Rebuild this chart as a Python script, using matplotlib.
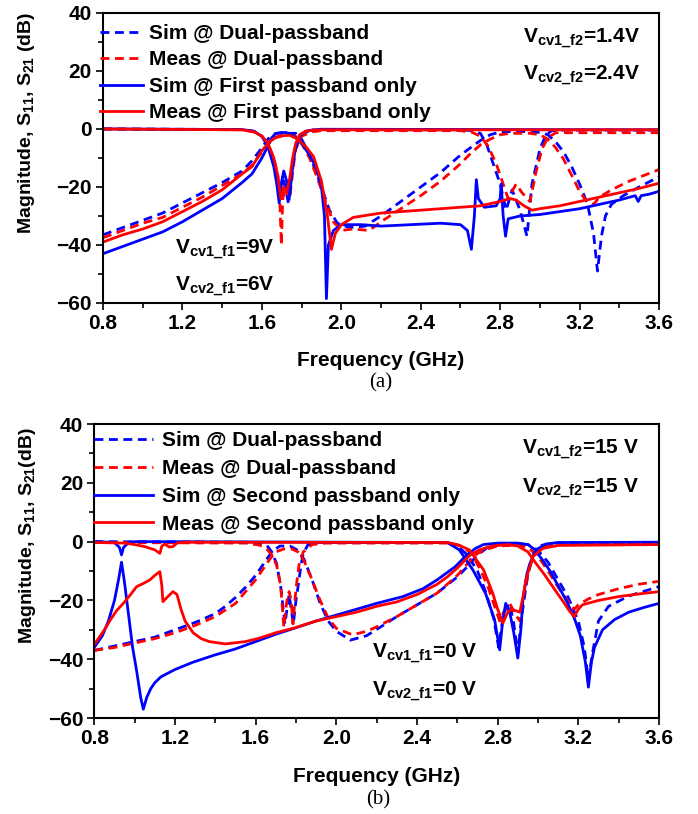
import numpy as np
import matplotlib
matplotlib.use("Agg")
import matplotlib.pyplot as plt
from matplotlib.ticker import MultipleLocator

plt.rcParams['font.family'] = ['Liberation Sans', 'DejaVu Sans']
plt.rcParams['font.weight'] = 'bold'
plt.rcParams['axes.labelweight'] = 'bold'
plt.rcParams['mathtext.fontset'] = 'custom'
plt.rcParams['mathtext.rm'] = 'Liberation Sans:bold'
plt.rcParams['mathtext.it'] = 'Liberation Sans:bold'
plt.rcParams['mathtext.bf'] = 'Liberation Sans:bold'

# ---------- panel (a): first passband tuning ----------
a_sim_dual_s21_f = [0.8, 0.9, 1.0, 1.1, 1.2, 1.3, 1.4, 1.5, 1.55, 1.6, 1.63, 1.66, 1.7, 1.74, 1.77, 1.8,
                    1.83, 1.86, 1.9, 1.94, 1.98, 2.04, 2.12, 2.2, 2.3, 2.4, 2.5, 2.6, 2.65, 2.7, 2.75, 2.8,
                    2.9, 3.0, 3.04, 3.08, 3.12, 3.16, 3.2, 3.24, 3.27, 3.29, 3.31, 3.33, 3.36, 3.42, 3.5, 3.6]
a_sim_dual_s21_db = [-36.5, -34, -31.5, -29, -25.5, -22, -18.5, -14.5, -11, -6.5, -3.5, -1.8, -1.2, -1.5, -1.5, -3.5,
                     -7.5, -12.5, -20, -28, -32.5, -34, -33.5, -30, -25, -20, -15, -9, -6.5, -4, -2, -1,
                     -0.8, -1.2, -2, -4.5, -8, -13, -19, -26, -36, -49, -37, -30, -26, -23, -20, -16.5]
a_sim_dual_s11_f = [0.8, 1.5, 1.56, 1.6, 1.63, 1.66, 1.675, 1.69, 1.705, 1.72, 1.735, 1.75, 1.77, 1.8, 1.84, 1.9,
                    2.6, 2.66, 2.7, 2.73, 2.76, 2.8, 2.83, 2.86, 2.9, 2.935, 2.96, 3.0, 3.03, 3.06, 3.1, 3.6]
a_sim_dual_s11_db = [0, -0.2, -0.8, -2.5, -5.5, -11, -18, -25, -16, -21, -26, -14, -6, -2, -0.5, -0.2,
                     -0.3, -0.6, -1.5, -5, -11, -19, -28, -21, -28, -37, -19, -7, -2, -0.6, -0.4, -0.4]
a_meas_dual_s21_f = [0.8, 0.9, 1.0, 1.1, 1.2, 1.3, 1.4, 1.5, 1.55, 1.6, 1.63, 1.66, 1.7, 1.74, 1.77, 1.8,
                     1.84, 1.88, 1.92, 1.96, 2.0, 2.06, 2.14, 2.2, 2.3, 2.4, 2.5, 2.6, 2.65, 2.7, 2.75, 2.8,
                     2.85, 2.95, 3.0, 3.04, 3.08, 3.12, 3.16, 3.2, 3.24, 3.27, 3.3, 3.36, 3.45, 3.6]
a_meas_dual_s21_db = [-37.5, -35, -32.5, -30.5, -27, -23.5, -19.5, -15.5, -12.5, -8, -5.5, -3, -2.2, -2, -2.5, -5,
                      -10, -17, -25, -32, -35, -34.5, -35, -32, -27.5, -23, -18, -12, -8.5, -5.5, -3.5, -2,
                      -1.5, -1.5, -2, -3.5, -6.5, -10.5, -16, -21.5, -25.5, -26, -23.5, -21, -18, -14]
a_meas_dual_s11_f = [0.8, 1.5, 1.56, 1.6, 1.63, 1.66, 1.68, 1.69, 1.698, 1.705, 1.72, 1.74, 1.755, 1.77, 1.8, 1.85,
                     1.9, 2.6, 2.66, 2.7, 2.74, 2.78, 2.81, 2.84, 2.88, 2.91, 2.95, 2.98, 3.01, 3.04, 3.08, 3.6]
a_meas_dual_s11_db = [0, -0.3, -1, -2.5, -5, -10, -16, -24, -40, -24, -20, -24, -15, -7, -2.5, -1,
                      -0.6, -0.6, -1.2, -2.5, -6, -12, -18, -24, -19, -22, -25, -15, -7, -3, -1.3, -1.3]
a_sim_first_s21_f = [0.8, 0.9, 1.0, 1.1, 1.2, 1.3, 1.4, 1.5, 1.55, 1.6, 1.63, 1.65, 1.67, 1.72, 1.75, 1.77,
                     1.8, 1.84, 1.875, 1.9, 1.915, 1.925, 1.935, 1.96, 2.0, 2.1, 2.2, 2.35, 2.5, 2.6, 2.635, 2.655,
                     2.67, 2.68, 2.69, 2.72, 2.78, 2.8, 2.805, 2.815, 2.827, 2.84, 2.9, 3.0, 3.1, 3.2, 3.3, 3.4,
                     3.48, 3.495, 3.51, 3.55, 3.6]
a_sim_first_s21_db = [-43, -40.5, -38, -35.5, -32, -28, -24, -18.5, -15.5, -10, -6, -3, -1.5, -1.2, -2, -3,
                      -5, -9, -13.5, -20, -30, -58.5, -40, -35, -33, -33, -33.5, -33, -32.5, -33, -35, -41.5,
                      -30, -17.5, -24, -27, -26.5, -24, -19, -30, -37, -31, -30, -29.5, -28.5, -27.5, -26, -24.5,
                      -23, -25, -23, -22.5, -21.5]
a_sim_first_s11_f = [0.8, 1.5, 1.56, 1.6, 1.63, 1.66, 1.675, 1.687, 1.7, 1.71, 1.725, 1.74, 1.75, 1.765, 1.79, 1.82,
                     1.86, 1.9, 3.6]
a_sim_first_s11_db = [0, -0.2, -0.8, -2.5, -6, -13, -19, -25.5, -18, -14.5, -18, -23, -16, -8, -2.5, -0.8,
                      -0.3, -0.1, -0.3]
a_meas_first_s21_f = [0.8, 0.9, 1.0, 1.1, 1.2, 1.3, 1.4, 1.5, 1.55, 1.6, 1.64, 1.67, 1.71, 1.74, 1.78, 1.82,
                      1.86, 1.9, 1.93, 1.95, 1.97, 2.0, 2.06, 2.2, 2.4, 2.6, 2.7, 2.8, 2.85, 2.88, 2.92, 2.96,
                      3.0, 3.1, 3.2, 3.3, 3.4, 3.5, 3.6]
a_meas_first_s21_db = [-39, -36.5, -34.5, -32, -28.5, -25, -21, -15.5, -13, -7.5, -4.3, -3, -2.3, -2.2, -3.5, -6,
                       -9.5, -18, -30, -41.5, -36, -33, -30.5, -29, -28, -27, -26.5, -25, -24, -24.5, -26.5, -28,
                       -27.5, -26.5, -25, -23.5, -22, -20.5, -18.7]
a_meas_first_s11_f = [0.8, 1.5, 1.56, 1.6, 1.63, 1.66, 1.68, 1.695, 1.71, 1.725, 1.74, 1.755, 1.77, 1.79, 1.82, 1.86,
                      1.9, 3.6]
a_meas_first_s11_db = [0, -0.3, -1, -2.5, -5, -10, -16, -24, -20, -22, -17, -10, -5, -2, -0.8, -0.4,
                       -0.3, -0.3]

# ---------- panel (b): second passband tuning ----------
b_sim_dual_s21_f = [0.8, 0.9, 1.0, 1.1, 1.2, 1.3, 1.4, 1.45, 1.5, 1.55, 1.6, 1.65, 1.68, 1.72, 1.77, 1.81,
                    1.84, 1.88, 1.92, 1.96, 2.0, 2.07, 2.15, 2.22, 2.3, 2.4, 2.5, 2.6, 2.65, 2.7, 2.75, 2.8,
                    2.9, 2.95, 3.0, 3.05, 3.1, 3.15, 3.2, 3.23, 3.25, 3.27, 3.3, 3.35, 3.45, 3.6]
b_sim_dual_s21_db = [-37, -35.5, -34, -32.5, -30, -27.5, -24.5, -22, -19, -15.5, -11.5, -6.5, -3.5, -1.5, -1.5, -3,
                     -6, -13, -21, -27, -30.5, -33.5, -32, -29, -25.5, -21.5, -17.5, -12, -8.5, -4.5, -2, -1,
                     -0.7, -1, -3, -7, -13, -19, -27, -36, -47, -38, -27, -22, -18.5, -15.3]
b_sim_dual_s11_f = [0.8, 1.55, 1.62, 1.655, 1.68, 1.704, 1.724, 1.745, 1.766, 1.787, 1.8, 1.811, 1.825, 1.836, 1.86, 1.9,
                    2.55, 2.6, 2.65, 2.7, 2.74, 2.78, 2.805, 2.83, 2.86, 2.88, 2.9, 2.92, 2.95, 2.98, 3.02, 3.1,
                    3.6]
b_sim_dual_s11_db = [0, -0.2, -0.5, -1.2, -3.5, -7.5, -15, -28, -18, -28, -20, -15, -8, -4, -1, -0.3,
                     -0.3, -1.5, -4.5, -10, -17, -26, -36, -24, -21, -28, -38, -25, -11, -4, -1.2, -0.4,
                     -0.3]
b_meas_dual_s21_f = [0.8, 0.9, 1.0, 1.1, 1.2, 1.3, 1.4, 1.5, 1.55, 1.6, 1.64, 1.67, 1.7, 1.74, 1.78, 1.81,
                     1.84, 1.88, 1.92, 1.96, 2.0, 2.08, 2.15, 2.2, 2.3, 2.4, 2.5, 2.6, 2.65, 2.7, 2.75, 2.8,
                     2.9, 2.95, 3.0, 3.05, 3.1, 3.15, 3.18, 3.2, 3.25, 3.3, 3.4, 3.5, 3.6]
b_meas_dual_s21_db = [-37, -36, -34.5, -33, -31, -28.5, -25.5, -21, -17, -13, -9, -6, -3.5, -2.5, -2.5, -3.5,
                      -6.5, -13, -20, -26, -29.5, -31.7, -30.5, -29, -25.5, -21.5, -17.5, -11.5, -7.5, -4, -2.5, -1.5,
                      -1.2, -2, -5, -10, -15.5, -20.5, -23, -21.5, -19.5, -18, -16, -14.5, -13.5]
b_meas_dual_s11_f = [0.8, 1.55, 1.62, 1.655, 1.68, 1.704, 1.724, 1.74, 1.755, 1.766, 1.776, 1.785, 1.8, 1.815, 1.836, 1.88,
                     1.95, 2.55, 2.62, 2.67, 2.71, 2.75, 2.78, 2.81, 2.83, 2.86, 2.89, 2.91, 2.93, 2.96, 2.99, 3.03,
                     3.1, 3.6]
b_meas_dual_s11_db = [-0.3, -0.5, -1.2, -2.5, -4.5, -8, -15, -29, -20, -17, -20, -28, -16, -8, -3.5, -1,
                      -0.5, -0.5, -1.5, -4, -9, -15, -21, -27, -24, -21, -25, -27, -18, -8, -3.5, -1.5,
                      -1, -1]
b_sim_second_s21_f = [0.8, 0.84, 0.87, 0.9, 0.92, 0.935, 0.95, 0.97, 0.99, 1.01, 1.03, 1.043, 1.06, 1.08, 1.1, 1.13,
                      1.2, 1.29, 1.4, 1.5, 1.62, 1.7, 1.79, 1.9, 2.0, 2.1, 2.2, 2.33, 2.43, 2.5, 2.55, 2.59,
                      2.64, 2.69, 2.73, 2.8, 2.9, 2.95, 2.98, 3.02, 3.06, 3.1, 3.14, 3.18, 3.21, 3.235, 3.25, 3.265,
                      3.28, 3.32, 3.38, 3.45, 3.52, 3.6]
b_sim_second_s21_db = [-36, -32, -27, -20, -13, -7, -14, -25, -36, -44, -53, -57, -53, -50, -48, -46,
                       -43.5, -41, -38.5, -36.5, -33.5, -31.5, -29.5, -27, -25, -23, -21, -18.7, -16, -13, -10.5, -8.5,
                       -5, -2.3, -1, -0.5, -0.5, -1, -2.5, -6, -10, -15, -20, -26, -32, -41, -49.5, -41,
                       -36, -30, -26.5, -24, -22.5, -21]
b_sim_second_s11_f = [0.8, 0.9, 0.925, 0.935, 0.945, 0.97, 1.0, 2.55, 2.61, 2.677, 2.74, 2.785, 2.81, 2.825, 2.84, 2.86,
                      2.88, 2.9, 2.915, 2.925, 2.945, 2.96, 2.99, 3.04, 3.1, 3.6]
b_sim_second_s11_db = [0, -0.3, -2, -4.5, -2, -0.3, 0, -0.3, -2.8, -9.6, -17.6, -26.6, -36.8, -27, -21, -24,
                       -31, -39.6, -30, -20, -11, -7.4, -2.8, -0.8, -0.3, -0.2]
b_meas_second_s21_f = [0.8, 0.85, 0.88, 0.91, 0.944, 0.98, 1.01, 1.05, 1.076, 1.1, 1.125, 1.135, 1.14, 1.16, 1.19, 1.21,
                       1.23, 1.25, 1.29, 1.33, 1.37, 1.45, 1.55, 1.62, 1.7, 1.79, 1.9, 2.0, 2.1, 2.2, 2.3, 2.4,
                       2.5, 2.55, 2.6, 2.66, 2.71, 2.77, 2.85, 2.9, 2.95, 2.99, 3.03, 3.06, 3.1, 3.125, 3.155, 3.18,
                       3.2, 3.22, 3.3, 3.4, 3.5, 3.6]
b_meas_second_s21_db = [-35, -30, -26.6, -23.5, -21, -18, -15.3, -14, -13, -11.5, -10.2, -15, -20.4, -19, -17, -18,
                        -23, -27, -31, -33, -34, -34.8, -34, -32.8, -31, -29.4, -27, -25.5, -24, -22, -20.5, -18,
                        -14.5, -12, -9, -4.8, -2.8, -1.5, -1, -1.5, -3.5, -7.4, -11, -14, -18, -20.4, -23.5, -25.5,
                        -23, -21.5, -20, -18.7, -17.8, -17]
b_meas_second_s11_f = [0.8, 0.95, 1.0, 1.05, 1.1, 1.125, 1.135, 1.15, 1.17, 1.19, 1.21, 1.25, 2.55, 2.6, 2.66, 2.73,
                       2.776, 2.8, 2.826, 2.85, 2.87, 2.89, 2.91, 2.925, 2.94, 2.975, 3.025, 3.1, 3.6]
b_meas_second_s11_db = [-0.3, -0.5, -1, -1.7, -2.8, -4, -1.5, -0.8, -1.8, -1.7, -0.5, -0.2, -0.3, -1, -2.8, -9.6,
                        -17.6, -23, -27.7, -24, -23, -23.5, -24, -19, -13, -5, -2.3, -1.3, -1]

a_labels = ['Sim @ Dual-passband', 'Meas @ Dual-passband',
            'Sim @ First passband only', 'Meas @ First passband only']
b_labels = ['Sim @ Dual-passband', 'Meas @ Dual-passband',
            'Sim @ Second passband only', 'Meas @ Second passband only']

BLUE = '#0000ff'
RED = '#ff0000'
LW = 2.0
DASH = (3.2, 2.0)


def draw_panel(ax, curves, labels, ylabel, ylabel_x):
    styles = [(BLUE, True), (RED, True), (BLUE, False), (RED, False)]
    handles = []
    for (color, dashed), (s21, s11) in zip(styles, curves):
        kw = dict(color=color, lw=LW)
        if dashed:
            kw['dashes'] = DASH
        h, = ax.plot(s21[0], s21[1], **kw)
        ax.plot(s11[0], s11[1], **kw)
        handles.append(h)

    ax.set_xlim(0.8, 3.6)
    ax.set_ylim(-60, 40)
    ax.xaxis.set_major_locator(MultipleLocator(0.4))
    ax.xaxis.set_minor_locator(MultipleLocator(0.2))
    ax.yaxis.set_major_locator(MultipleLocator(20))
    ax.yaxis.set_minor_locator(MultipleLocator(10))
    ax.xaxis.set_major_formatter(plt.FuncFormatter(lambda v, p: '%.1f' % v))
    ax.tick_params(which='major', direction='out', length=5, width=1.2, labelsize=15, pad=3)
    ax.tick_params(which='minor', direction='out', length=3.5, width=1.2)
    for s in ax.spines.values():
        s.set_linewidth(1.5)

    ax.set_ylabel(ylabel, fontsize=14)
    ax.yaxis.set_label_coords(ylabel_x, 0.62)
    ax.set_xlabel('Frequency (GHz)', fontsize=15)
    ax.xaxis.set_label_coords(0.5, -0.165)
    return handles


fig = plt.figure(figsize=(6.98, 8.14), dpi=100)
ax_a = fig.add_axes([0.1476, 0.6278, 0.7966, 0.3563])
ax_b = fig.add_axes([0.1351, 0.1179, 0.8090, 0.3612])

curves_a = [((a_sim_dual_s21_f, a_sim_dual_s21_db), (a_sim_dual_s11_f, a_sim_dual_s11_db)),
            ((a_meas_dual_s21_f, a_meas_dual_s21_db), (a_meas_dual_s11_f, a_meas_dual_s11_db)),
            ((a_sim_first_s21_f, a_sim_first_s21_db), (a_sim_first_s11_f, a_sim_first_s11_db)),
            ((a_meas_first_s21_f, a_meas_first_s21_db), (a_meas_first_s11_f, a_meas_first_s11_db))]
curves_b = [((b_sim_dual_s21_f, b_sim_dual_s21_db), (b_sim_dual_s11_f, b_sim_dual_s11_db)),
            ((b_meas_dual_s21_f, b_meas_dual_s21_db), (b_meas_dual_s11_f, b_meas_dual_s11_db)),
            ((b_sim_second_s21_f, b_sim_second_s21_db), (b_sim_second_s11_f, b_sim_second_s11_db)),
            ((b_meas_second_s21_f, b_meas_second_s21_db), (b_meas_second_s11_f, b_meas_second_s11_db))]

h_a = draw_panel(ax_a, curves_a, a_labels, r'Magnitude, S$_{11}$, S$_{21}$ (dB)', -0.119)
h_b = draw_panel(ax_b, curves_b, b_labels, r'Magnitude, S$_{11}$, S$_{21}$(dB)', -0.100)

ax_a.legend(h_a, a_labels, loc='upper left', bbox_to_anchor=(-0.006, 0.962), frameon=False,
            fontsize=15, handlelength=2.1, handletextpad=0.25, labelspacing=0.36,
            borderpad=0, borderaxespad=0)
ax_b.legend(h_b, b_labels, loc='upper left', bbox_to_anchor=(0.0, 0.975), frameon=False,
            fontsize=15, handlelength=2.8, handletextpad=0.45, labelspacing=0.42,
            borderpad=0, borderaxespad=0)

# bias voltage annotations
ax_a.text(2.915, 30, r'V$_{cv1\_f2}$=1.4V', fontsize=15)
ax_a.text(2.915, 17, r'V$_{cv2\_f2}$=2.4V', fontsize=15)
ax_a.text(1.163, -42.8, r'V$_{cv1\_f1}$=9V', fontsize=15)
ax_a.text(1.163, -55.5, r'V$_{cv2\_f1}$=6V', fontsize=15)
ax_b.text(2.92, 30, r'V$_{cv1\_f2}$=15 V', fontsize=15)
ax_b.text(2.92, 16.8, r'V$_{cv2\_f2}$=15 V', fontsize=15)
ax_b.text(2.177, -39.3, r'V$_{cv1\_f1}$=0 V', fontsize=15)
ax_b.text(2.177, -52.2, r'V$_{cv2\_f1}$=0 V', fontsize=15)

fig.text(381 / 698, 1 - 383 / 814, '(a)', ha='center', va='center',
         family='Liberation Serif', fontweight='normal', fontsize=15)
fig.text(378 / 698, 1 - 800 / 814, '(b)', ha='center', va='center',
         family='Liberation Serif', fontweight='normal', fontsize=15)

fig.savefig('out.png', dpi=100)
